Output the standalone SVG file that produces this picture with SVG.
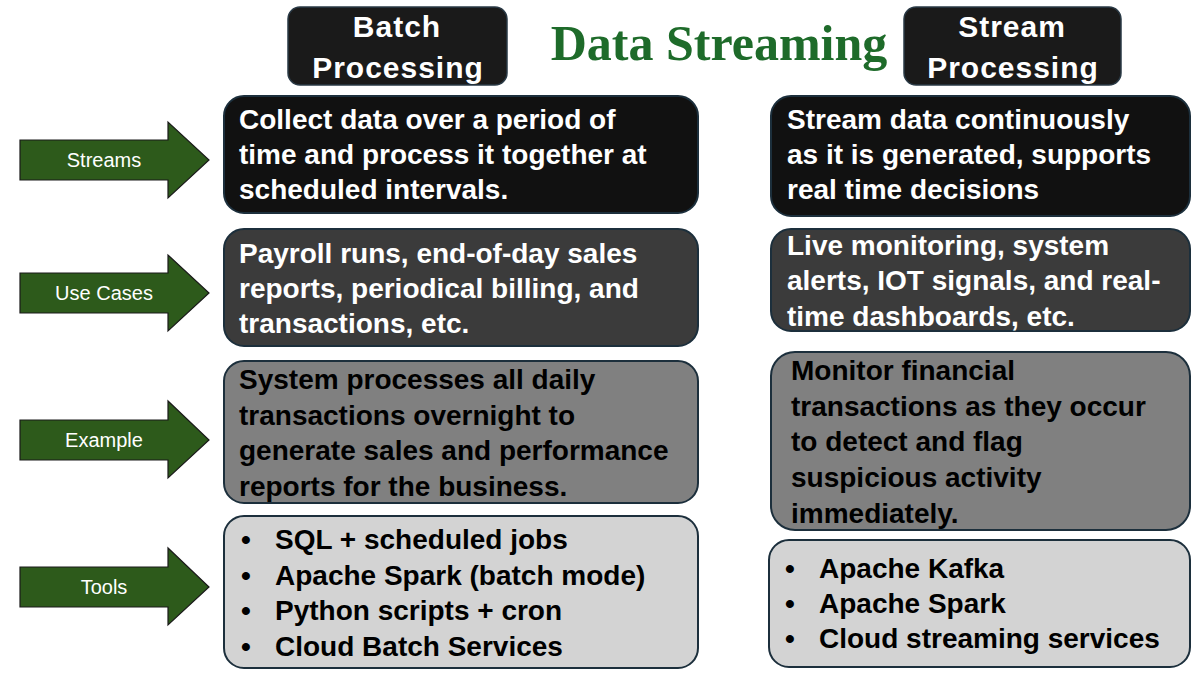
<svg xmlns="http://www.w3.org/2000/svg" width="1200" height="675" viewBox="0 0 1200 675">
<style>
.hdr{fill:#1a1a1a;stroke:#2a3a46;stroke-width:1.5}
.hdrt{font-family:"Liberation Sans",Arial,sans-serif;font-weight:bold;font-size:30px;fill:#ffffff;text-anchor:middle;letter-spacing:1px}
.box{stroke:#1c2f3c;stroke-width:2}
.bt{font-family:"Liberation Sans",Arial,sans-serif;font-weight:bold;font-size:28px}
.w{fill:#ffffff}
.k{fill:#000000}
.arr{fill:#2d5a1b;stroke:#1a1a1a;stroke-width:1.2}
.al{font-family:"Liberation Sans",Arial,sans-serif;font-size:20px;fill:#ffffff;text-anchor:middle}
</style>
<rect width="1200" height="675" fill="#ffffff"/>
<g id="title"><text x="719" y="60" font-family="'Liberation Serif','Times New Roman',serif" font-weight="bold" font-size="50" fill="#1e6b2a" text-anchor="middle">Data Streaming</text></g>
<g id="hdr-batch"><rect class="hdr" x="288" y="7" width="219" height="78" rx="12"/><text class="hdrt" x="397" y="37">Batch</text><text class="hdrt" x="398" y="78">Processing</text></g>
<g id="hdr-stream"><rect class="hdr" x="904" y="7" width="217" height="78" rx="12"/><text class="hdrt" x="1012" y="37">Stream</text><text class="hdrt" x="1013" y="78">Processing</text></g>
<g id="connectors">
<g id="arrow-streams"><path class="arr" d="M20,140 H168 V122 L209,160 L168,198 V180 H20 Z"/><text class="al" x="104" y="167">Streams</text></g>
<g id="arrow-usecases"><path class="arr" d="M20,273 H168 V255 L209,293 L168,331 V313 H20 Z"/><text class="al" x="104" y="300">Use Cases</text></g>
<g id="arrow-example"><path class="arr" d="M20,420 H168 V401 L209,440 L168,478 V460 H20 Z"/><text class="al" x="104" y="447">Example</text></g>
<g id="arrow-tools"><path class="arr" d="M20,567 H168 V548 L209,587 L168,625 V607 H20 Z"/><text class="al" x="104" y="594">Tools</text></g>
</g>
<g id="batch-streams"><rect class="box" x="224" y="96" width="474" height="117" rx="20" fill="#111111"/>
<text class="bt w" x="239" y="129">Collect data over a period of</text>
<text class="bt w" x="239" y="164">time and process it together at</text>
<text class="bt w" x="239" y="199">scheduled intervals.</text></g>
<g id="batch-usecases"><rect class="box" x="224" y="229" width="474" height="117" rx="20" fill="#3b3b3b"/>
<text class="bt w" x="239" y="263">Payroll runs, end-of-day sales</text>
<text class="bt w" x="239" y="298">reports, periodical billing, and</text>
<text class="bt w" x="239" y="333">transactions, etc.</text></g>
<g id="batch-example"><rect class="box" x="224" y="361" width="474" height="142" rx="20" fill="#808080"/>
<text class="bt k" x="239" y="389">System processes all daily</text>
<text class="bt k" x="239" y="425">transactions overnight to</text>
<text class="bt k" x="239" y="460">generate sales and performance</text>
<text class="bt k" x="239" y="496">reports for the business.</text></g>
<g id="batch-tools"><rect class="box" x="224" y="516" width="474" height="152" rx="20" fill="#d3d3d3"/>
<text class="bt k" x="241" y="549">•</text><text class="bt k" x="275" y="549">SQL + scheduled jobs</text>
<text class="bt k" x="241" y="585">•</text><text class="bt k" x="275" y="585">Apache Spark (batch mode)</text>
<text class="bt k" x="241" y="620">•</text><text class="bt k" x="275" y="620">Python scripts + cron</text>
<text class="bt k" x="241" y="656">•</text><text class="bt k" x="275" y="656">Cloud Batch Services</text></g>
<g id="stream-streams"><rect class="box" x="771" y="96" width="419" height="120" rx="20" fill="#111111"/>
<text class="bt w" x="787" y="129">Stream data continuously</text>
<text class="bt w" x="787" y="164">as it is generated, supports</text>
<text class="bt w" x="787" y="199">real time decisions</text></g>
<g id="stream-usecases"><rect class="box" x="771" y="229" width="419" height="102" rx="20" fill="#3b3b3b"/>
<text class="bt w" x="787" y="255">Live monitoring, system</text>
<text class="bt w" x="787" y="290">alerts, IOT signals, and real-</text>
<text class="bt w" x="787" y="326">time dashboards, etc.</text></g>
<g id="stream-example"><rect class="box" x="771" y="352" width="419" height="178" rx="24" fill="#808080"/>
<text class="bt k" x="791" y="380">Monitor financial</text>
<text class="bt k" x="791" y="416">transactions as they occur</text>
<text class="bt k" x="791" y="451">to detect and flag</text>
<text class="bt k" x="791" y="487">suspicious activity</text>
<text class="bt k" x="791" y="523">immediately.</text></g>
<g id="stream-tools"><rect class="box" x="769" y="540" width="421" height="127" rx="20" fill="#d3d3d3"/>
<text class="bt k" x="785" y="578">•</text><text class="bt k" x="819" y="578">Apache Kafka</text>
<text class="bt k" x="785" y="613">•</text><text class="bt k" x="819" y="613">Apache Spark</text>
<text class="bt k" x="785" y="648">•</text><text class="bt k" x="819" y="648">Cloud streaming services</text></g>
</svg>
